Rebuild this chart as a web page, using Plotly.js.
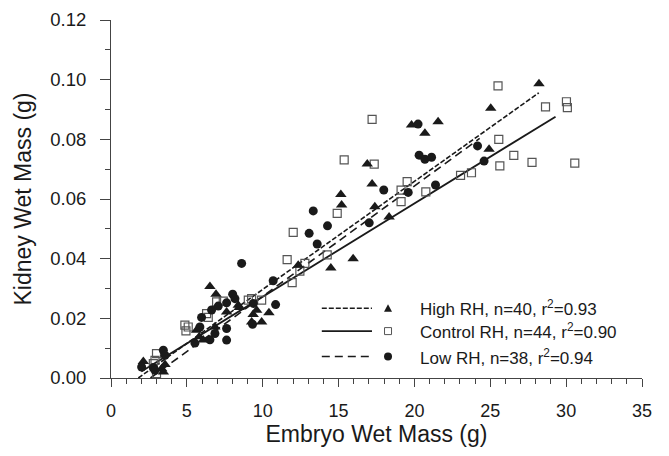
<!DOCTYPE html>
<html>
<head>
<meta charset="utf-8">
<script src="https://cdn.plot.ly/plotly-3.0.1.min.js"></script>
<style>
  html, body { margin: 0; padding: 0; background: #fff; }
  #chart { width: 669px; height: 456px; }
</style>
</head>
<body>
<div id="chart"></div>
<script>
// ---- Data ----
// High RH (filled triangles)
const highX = [2.13, 2.9, 3.34, 3.45, 3.56, 5.64, 5.82, 6.08, 6.52, 6.92, 6.85, 7.62, 8.39, 8.45,
  9.27, 9.37, 9.6, 9.93, 10.41, 12.34, 14.49, 15.15, 15.2, 15.96, 16.89, 17.21, 17.39, 18.33,
  19.81, 20.69, 21.56, 24.92, 25.03, 28.21];
const highY = [0.0055, 0.0031, 0.0031, 0.0020, 0.0045, 0.0160, 0.0138, 0.0127, 0.0307, 0.0281, 0.0171, 0.0221, 0.0244, 0.0236,
  0.0188, 0.0213, 0.0227, 0.0188, 0.0219, 0.0378, 0.0369, 0.0615, 0.0580, 0.0400, 0.0717, 0.0650, 0.0574, 0.0540,
  0.0848, 0.0820, 0.0859, 0.0767, 0.0904, 0.0986];

// Control RH (open squares)
const ctrlX = [2.79, 2.9, 3.0, 3.0, 4.87, 5.09, 4.94, 6.3, 6.41, 6.96, 7.4, 9.05, 9.27, 9.93,
  11.61, 11.94, 12.01, 12.45, 12.78, 14.25, 14.91, 15.37, 17.21, 17.35, 19.12, 19.12, 19.52, 20.75,
  23.04, 23.76, 25.51, 25.56, 25.63, 26.55, 27.75, 28.64, 30.02, 30.08, 30.57];
const ctrlY = [0.0048, 0.0059, 0.0082, 0.0015, 0.0177, 0.0171, 0.0158, 0.0216, 0.0203, 0.0255, 0.0258, 0.0261, 0.0266, 0.0261,
  0.0397, 0.0320, 0.0488, 0.0358, 0.0384, 0.0413, 0.0552, 0.0731, 0.0867, 0.0717, 0.0591, 0.0630, 0.0658, 0.0624,
  0.0679, 0.0688, 0.0979, 0.0800, 0.0711, 0.0746, 0.0723, 0.0909, 0.0926, 0.0906, 0.0720];

// Low RH (filled circles)
const lowX = [2.02, 2.79, 2.9, 3.45, 3.56, 5.53, 5.86, 5.97, 6.52, 6.63, 6.85, 7.07, 7.62, 7.62, 7.62,
  8.02, 8.17, 8.61, 9.38, 9.33, 10.69, 10.85, 13.06, 13.33, 13.59, 14.27, 17.02, 17.98, 19.59,
  20.24, 20.31, 20.69, 21.13, 21.39, 24.16, 24.59];
const lowY = [0.0037, 0.0035, 0.0026, 0.0093, 0.0076, 0.0117, 0.0171, 0.0203, 0.0128, 0.0228, 0.0149, 0.0241, 0.0252, 0.0166, 0.0127,
  0.0281, 0.0266, 0.0384, 0.0250, 0.0180, 0.0326, 0.0246, 0.0485, 0.0560, 0.0449, 0.0510, 0.0520, 0.0630, 0.0622,
  0.0851, 0.0747, 0.0733, 0.0740, 0.0647, 0.0778, 0.0727];

// Regression line end points
const highFitX = [1.8, 28.2];
const highFitY = [0.0, 0.0956];
const ctrlFitX = [2.0, 29.3];
const ctrlFitY = [0.0022, 0.0876];
const lowFitX = [2.6, 24.3];
const lowFitY = [0.0, 0.0803];

// Legend labels
const legendLabels = [
  'High RH, n=40, r<sup>2</sup>=0.93',
  'Control RH, n=44, r<sup>2</sup>=0.90',
  'Low RH, n=38, r<sup>2</sup>=0.94'
];

// Axis ticks
const xTicks = [0, 5, 10, 15, 20, 25, 30, 35];
const yTicks = [0, 0.02, 0.04, 0.06, 0.08, 0.10, 0.12];

// ---- Chart ----
const FONT = 'Liberation Sans, Arial, sans-serif';
const INK = '#1a1a1a';

const traces = [
  { x: highFitX, y: highFitY, mode: 'lines', line: { color: INK, width: 1.6, dash: '5px,2px' }, showlegend: false, hoverinfo: 'skip' },
  { x: ctrlFitX, y: ctrlFitY, mode: 'lines', line: { color: INK, width: 1.8 }, showlegend: false, hoverinfo: 'skip' },
  { x: lowFitX, y: lowFitY, mode: 'lines', line: { color: INK, width: 1.6, dash: '8px,5px' }, showlegend: false, hoverinfo: 'skip' },
  { x: ctrlX, y: ctrlY, mode: 'markers', showlegend: false,
    marker: { symbol: 'square-open', size: 8, color: '#555', line: { width: 1.2, color: '#555' } } },
  { x: highX, y: highY, mode: 'markers', showlegend: false,
    marker: { symbol: 'triangle-up', size: 10, color: INK } },
  { x: lowX, y: lowY, mode: 'markers', showlegend: false,
    marker: { symbol: 'circle', size: 9, color: INK } }
];

// custom legend (paper coordinates)
const rowY = [0.195, 0.131, 0.060];
const lineX0 = 0.397, lineX1 = 0.4915, markX = 0.5217, textX = 0.578;
const dashes = ['5px,2px', 'solid', '8px,5px'];
const shapes = [];
const annotations = [];
for (let i = 0; i < 3; i++) {
  shapes.push({ type: 'line', xref: 'paper', yref: 'paper', x0: lineX0, x1: lineX1, y0: rowY[i], y1: rowY[i],
    line: { color: INK, width: i === 1 ? 1.8 : 1.6, dash: dashes[i] } });
  annotations.push({ xref: 'paper', yref: 'paper', x: textX, y: rowY[i], xanchor: 'left', yanchor: 'middle',
    text: legendLabels[i], showarrow: false, font: { family: FONT, size: 17, color: INK } });
}
// legend symbols
shapes.push({ type: 'path', xref: 'paper', yref: 'paper', xsizemode: 'pixel', ysizemode: 'pixel',
  xanchor: markX, yanchor: rowY[0], path: 'M-4,-3.5 L4,-3.5 L0,4 Z', fillcolor: INK, line: { width: 0 } });
shapes.push({ type: 'rect', xref: 'paper', yref: 'paper', xsizemode: 'pixel', ysizemode: 'pixel',
  xanchor: markX, yanchor: rowY[1], x0: -3.5, x1: 3.5, y0: -3.5, y1: 3.5, fillcolor: '#fff', line: { width: 1, color: '#555' } });
shapes.push({ type: 'circle', xref: 'paper', yref: 'paper', xsizemode: 'pixel', ysizemode: 'pixel',
  xanchor: markX, yanchor: rowY[2], x0: -4, x1: 4, y0: -4, y1: 4, fillcolor: INK, line: { width: 0 } });

const layout = {
  width: 669, height: 456,
  margin: { l: 111, r: 27, t: 20, b: 78 },
  paper_bgcolor: '#fff', plot_bgcolor: '#fff',
  font: { family: FONT, color: INK, size: 18 },
  showlegend: false,
  xaxis: {
    range: [0, 35], tickvals: xTicks, ticktext: xTicks.map(String),
    showgrid: false, zeroline: false, showline: true, linecolor: '#444', linewidth: 1,
    ticks: 'outside', ticklen: 8, tickcolor: '#444', tickwidth: 1,
    ticklabelstandoff: 8,
    minor: { dtick: 1, ticks: 'outside', ticklen: 5, tickcolor: '#444', showgrid: false },
    tickfont: { family: FONT, size: 18, color: INK },
    title: { text: 'Embryo Wet Mass (g)', font: { family: FONT, size: 23, color: INK }, standoff: 6 }
  },
  yaxis: {
    range: [0, 0.12], tickvals: yTicks, ticktext: yTicks.map(v => v.toFixed(2)),
    showgrid: false, zeroline: false, showline: true, linecolor: '#444', linewidth: 1,
    ticks: 'outside', ticklen: 10, tickcolor: '#444', tickwidth: 1,
    ticklabelstandoff: 10,
    minor: { dtick: 0.01, ticks: 'outside', ticklen: 5, tickcolor: '#444', showgrid: false },
    tickfont: { family: FONT, size: 18.5, color: INK },
    title: { text: 'Kidney Wet Mass (g)', font: { family: FONT, size: 23, color: INK }, standoff: 12 }
  },
  shapes: shapes,
  annotations: annotations
};

Plotly.newPlot('chart', traces, layout, { staticPlot: true, displayModeBar: false });
</script>
</body>
</html>
